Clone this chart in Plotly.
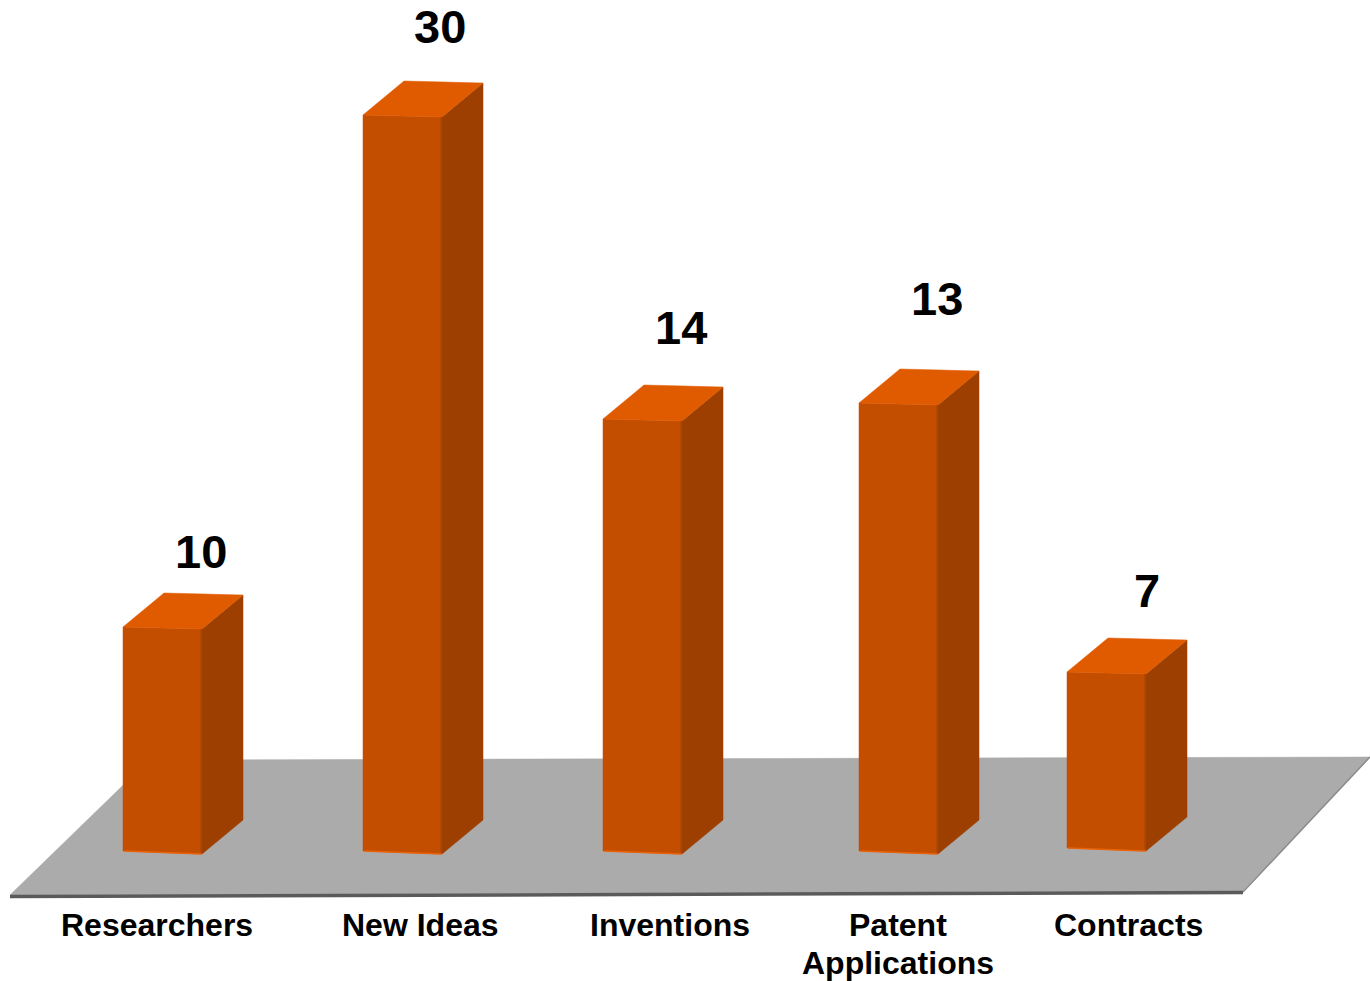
import plotly.graph_objects as go

# ---- data ----
categories = ["Researchers", "New Ideas", "Inventions", "Patent<br>Applications", "Contracts"]
value_labels = ["10", "30", "14", "13", "7"]
# drawn bar heights (the original is not to scale with its labels)
drawn_heights = [225, 737, 433, 449, 177]
drawn_bases = [0, 0, 0, 0, 3]

# ---- layout constants ----
W, H = 1370, 981
BASE_PX = 854
Y_BOTTOM = BASE_PX - H
bar_left = [123, 363, 603, 859, 1067]
BAR_W, TILT, DX, DY = 79, 2, 41, 34
label_x = [157, 420, 670, 898, 1128]
LABEL_Y, LABEL_STEP = 925, 38
value_x = [200.5, 440, 680.5, 936.5, 1146.5]
value_y = [551.5, 26.5, 327.5, 298.5, 590.5]

FRONT, TOP, SIDE, EDGE, SEAM = "#C44E00", "#E05A00", "#9C3F00", "#EB6206", "#AE4600"


def py(px):
    """pixel row -> value-axis coordinate"""
    return BASE_PX - px


fig = go.Figure()


def poly(xs, ys, color):
    fig.add_trace(go.Scatter(
        x=xs + xs[:1], y=ys + ys[:1], mode="lines", fill="toself", fillcolor=color,
        line=dict(color=color, width=0.5), hoverinfo="skip", showlegend=False))


def seg(xs, ys, color, width):
    fig.add_trace(go.Scatter(x=xs, y=ys, mode="lines", line=dict(color=color, width=width),
                             hoverinfo="skip", showlegend=False))


# floor
fx = [10, 149, 1370, 1243]
fy = [py(p) for p in (895, 760, 757, 891)]
poly(fx, fy, "#ABABAB")
seg([1243, 1370], [py(892), py(757)], "#8A8A8A", 1.5)
seg([10, 1243], [py(896.5), py(892.5)], "#5A5A5A", 3.5)

# bars
for left, h, b in zip(bar_left, drawn_heights, drawn_bases):
    right = left + BAR_W
    top = b + h
    poly([left, right, right, left], [top + TILT, top, b, b + TILT + 1], FRONT)
    poly([right, right + DX, right + DX, right], [top, top + DY, b + DY, b], SIDE)
    poly([left, left + DX, right + DX, right], [top + TILT, top + TILT + DY, top + DY, top], TOP)
    seg([left + 1, right], [b + TILT + 1, b], EDGE, 1.5)
    seg([right - 1, right - 1], [top, b + 1], SEAM, 1.5)

annotations = []
for txt, x in zip(categories, label_x):
    for i, part in enumerate(txt.split("<br>")):
        annotations.append(dict(x=x, y=py(LABEL_Y + i * LABEL_STEP), text=f"<b>{part}</b>", showarrow=False,
                                xanchor="center", yanchor="middle",
                                font=dict(family="Liberation Sans", size=32, color="#000000")))
for txt, x, y in zip(value_labels, value_x, value_y):
    annotations.append(dict(x=x, y=py(y), text=f"<b>{txt}</b>", showarrow=False, xanchor="center", yanchor="middle",
                            font=dict(family="Liberation Sans", size=47, color="#000000")))

fig.update_layout(
    width=W, height=H, margin=dict(l=0, r=0, t=0, b=0),
    paper_bgcolor="white", plot_bgcolor="white", showlegend=False,
    xaxis=dict(range=[0, W], visible=False, fixedrange=True),
    yaxis=dict(range=[Y_BOTTOM, BASE_PX], visible=False, fixedrange=True),
    annotations=annotations,
)
fig.write_html("out.html", config={"displayModeBar": False},
               post_script="document.body.style.margin='0';")
